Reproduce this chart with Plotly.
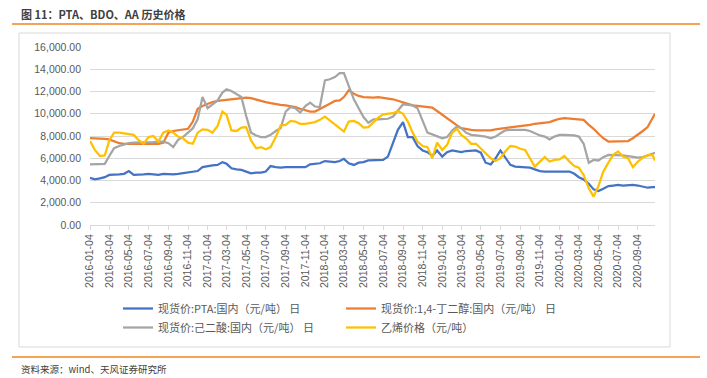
import plotly.graph_objects as go

# ---- data (semi-monthly sampling: 4th & 19th of each month) ----
dates = [f"{2016 + (k // 2) // 12}-{(k // 2) % 12 + 1:02d}-{'04' if k % 2 == 0 else '19'}" for k in range(116)] + ["2020-10-27"]

pta = [4250, 4100, 4200, 4300, 4500, 4500, 4550, 4600, 4850, 4500, 4500, 4550, 4600, 4550, 4500, 4600,
       4550, 4550, 4600, 4650, 4750, 4800, 4850, 5200, 5300, 5350, 5400, 5650, 5500, 5100,
       5000, 4950, 4800, 4650, 4700, 4700, 4800, 5300, 5200, 5150, 5200, 5200, 5150, 5150, 5200, 5450,
       5500, 5550, 5750, 5700, 5650, 5750, 5950, 5550, 5400, 5600, 5650, 5800, 5800,
       5800, 5850, 6150, 7300, 8550, 9250, 7900, 7900, 7100, 6700, 6550, 6200, 6700, 6150, 6550, 6700,
       6600, 6550, 6650, 6650, 6700, 6500, 5600, 5450, 6000, 6700, 6100, 5400,
       5250, 5200, 5200, 5150, 5000, 4850, 4800, 4800, 4800, 4850, 4800, 4800, 4600, 4300, 4100, 3700,
       3200, 3050, 3250, 3500, 3550, 3600, 3550, 3600, 3600, 3550, 3450, 3350, 3400, 3400]

bdo = [7800, 7800, 7800, 7750, 7700, 7500, 7350, 7300, 7300, 7250, 7250, 7250, 7250, 7300, 7300, 7400,
       8300, 8450, 8500, 8550, 8650, 9300, 10450, 10700, 10900, 11050, 11150, 11200, 11300, 11350,
       11350, 11400, 11450, 11400, 11300, 11200, 11050, 10950, 10850, 10800, 10750, 10700, 10600, 10450,
       10300, 10200, 10200, 10450, 10700, 10900, 11150, 11200, 11500, 12100, 11800, 11600, 11500, 11450, 11450,
       11500, 11450, 11400, 11300, 11170, 11000, 10900, 10750, 10700, 10650, 10600, 10550, 10250, 9900,
       9650, 9300, 8950, 8700, 8600, 8550, 8500, 8500, 8500, 8500, 8600, 8650, 8700, 8750,
       8800, 8850, 8900, 9000, 9100, 9150, 9200, 9250, 9400, 9550, 9600, 9550, 9550, 9500, 9450, 9000,
       8650, 8200, 7800, 7500, 7500, 7500, 7500, 7550, 7800, 8100, 8450, 8800, 9600, 10000]

aa = [5450, 5450, 5450, 5500, 6200, 6900, 7100, 7250, 7350, 7400, 7400, 7400, 7400, 7450, 7500, 7500,
      7350, 7000, 7650, 7900, 8300, 8700, 9500, 11500, 10500, 10800, 11200, 11900, 12200, 12050,
      11800, 11500, 9800, 8300, 8050, 7900, 7900, 8100, 8450, 8700, 10200, 10600, 10500, 10100, 10700,
      11000, 10650, 10600, 13000, 13100, 13300, 13650, 13650, 12500, 11300, 10500, 9700, 9200, 9500,
      9500, 9550, 9550, 9750, 10300, 10850, 10800, 10750, 10500, 9400, 8300, 8150, 8000, 7800, 7900,
      8500, 8850, 8700, 8300, 8100, 8050, 8000, 7950, 7800, 7950, 8250, 8500, 8550,
      8550, 8550, 8550, 8450, 8250, 8050, 7950, 7700, 7950, 8100, 8100, 8100, 8050, 7950, 7300, 5600,
      5850, 5800, 6100, 6300, 6300, 6300, 6250, 6200, 6150, 6050, 6100, 6250, 6400, 6500]

ethylene = [7550, 6750, 6200, 6250, 7600, 8300, 8300, 8250, 8200, 8100, 7600, 7300, 7900, 8000, 7500, 8300,
            8500, 8300, 7950, 7800, 7400, 7300, 8300, 8600, 8550, 8300, 8900, 10200, 9900, 8500,
            8450, 8750, 8800, 7600, 6900, 7000, 6800, 7000, 7900, 8950, 9000, 9350, 9300, 9100, 9100,
            9150, 9250, 9450, 9750, 9400, 9050, 8750, 8400, 9300, 9350, 9150, 8750, 8800, 9250,
            9650, 9950, 10000, 10050, 10250, 10000, 9300, 8300, 7500, 7100, 7000, 6000, 7400, 6750, 7200,
            8300, 8650, 8100, 7800, 7300, 7300, 6900, 6500, 6000, 5750, 6000, 6600, 7100,
            7050, 6850, 6750, 6000, 5250, 5700, 6100, 5700, 5850, 5900, 6200, 5700, 5300, 5150, 4500, 3300,
            2550, 3500, 4800, 5600, 6300, 6600, 6150, 6000, 5200, 5700, 6050, 6250, 6300, 5800]

series_names = ["现货价:PTA:国内（元/吨） 日", "现货价:1,4-丁二醇:国内（元/吨） 日",
                "现货价:己二酸:国内（元/吨） 日", "乙烯价格（元/吨）"]
series_colors = ["#4472C4", "#ED7D31", "#A5A5A5", "#FFC000"]
series_values = [pta, bdo, aa, ethylene]

title_text = "图 11：PTA、BDO、AA 历史价格"
source_text = "资料来源：wind、天风证券研究所"

# ---- layout geometry (pixels) ----
W, H = 707, 378
PL, PR, PT, PB = 90, 655, 47, 225


def px_x(px):
    return (px - PL) / (PR - PL)


def px_y(py):
    return (PB - py) / (PB - PT)


CJK = "Noto Sans CJK SC, Noto Sans, sans-serif"
NUM = "Liberation Sans, Arial, sans-serif"

fig = go.Figure()
for name, color, vals in zip(series_names, series_colors, series_values):
    fig.add_trace(go.Scatter(x=dates, y=vals, mode="lines", name=name,
                             line=dict(color=color, width=2.25)))

fig.update_layout(
    width=W, height=H,
    margin=dict(l=PL, r=W - PR, t=PT, b=H - PB, autoexpand=False),
    paper_bgcolor="white", plot_bgcolor="white",
    showlegend=True,
    legend=dict(orientation="h", x=px_x(118), y=px_y(294), xanchor="left", yanchor="top",
                font=dict(family=CJK, size=11, color="#595959"),
                entrywidth=178, entrywidthmode="pixels", traceorder="normal",
                bgcolor="rgba(0,0,0,0)"),
    xaxis=dict(type="date", range=["2016-01-04", "2020-10-27"], tick0="2016-01-04", dtick="M2",
               tickformat="%Y-%m-%d", tickangle=-90,
               tickfont=dict(family=NUM, size=10.5, color="#595959"),
               showgrid=False, showline=True, linecolor="#D9D9D9", linewidth=1,
               ticks="outside", ticklen=4, tickcolor="#D9D9D9", zeroline=False),
    yaxis=dict(range=[0, 16000], dtick=2000, tickformat=",.2f",
               tickfont=dict(family=NUM, size=10.5, color="#595959"),
               showgrid=True, gridcolor="#D9D9D9", gridwidth=1, showline=False,
               zeroline=False, ticks="", ticklabelstandoff=8),
)

shapes = [
    # chart frame
    dict(type="rect", xref="paper", yref="paper", x0=px_x(19), x1=px_x(670), y0=px_y(347), y1=px_y(33),
         line=dict(color="#D9D9D9", width=1), fillcolor="rgba(0,0,0,0)", layer="below"),
    # orange rules
    dict(type="line", xref="paper", yref="paper", x0=px_x(12), x1=px_x(700), y0=px_y(24), y1=px_y(24),
         line=dict(color="#F0851E", width=1.5)),
    dict(type="line", xref="paper", yref="paper", x0=px_x(12), x1=px_x(700), y0=px_y(357), y1=px_y(357),
         line=dict(color="#F0851E", width=1.5)),
]
fig.update_layout(shapes=shapes)

fig.add_annotation(text="<b>" + title_text + "</b>", xref="paper", yref="paper",
                   x=px_x(19), y=px_y(14.5), xanchor="left", yanchor="middle", showarrow=False,
                   font=dict(family=CJK, size=11, color="#404040"))
fig.add_annotation(text=source_text, xref="paper", yref="paper",
                   x=px_x(19), y=px_y(369), xanchor="left", yanchor="middle", showarrow=False,
                   font=dict(family=CJK, size=9.5, color="#404040"))

fig.write_html("out.html", config={"displayModeBar": False},
               post_script="document.body.style.margin='0px';document.body.style.padding='0px';")
